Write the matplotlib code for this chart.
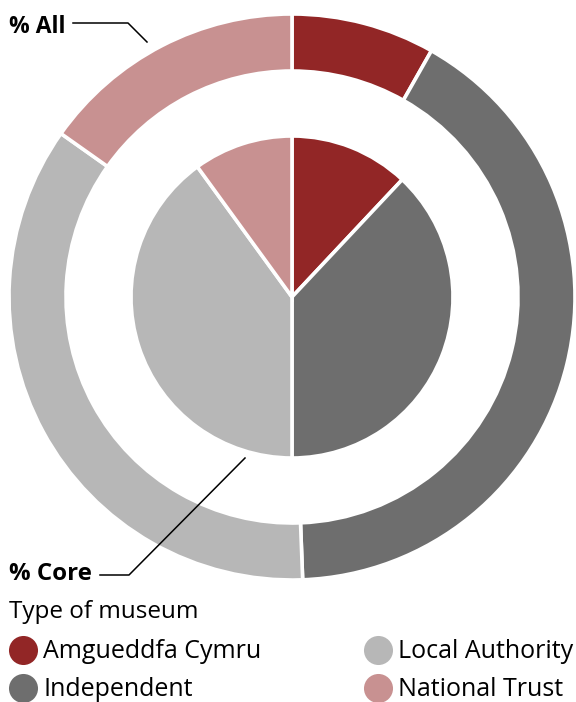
import matplotlib.pyplot as plt

plt.rcParams['font.family'] = ['Open Sans', 'DejaVu Sans']

# museum types and their shares (%)
types = ['Amgueddfa Cymru', 'Independent', 'Local Authority', 'National Trust']
colors = ['#922626', '#6e6e6e', '#b7b7b7', '#c89191']
pct_all = [8.2, 41.2, 35.4, 15.2]
pct_core = [12.0, 38.0, 40.0, 10.0]

W, H = 576, 702
fig = plt.figure(figsize=(W / 100, H / 100), dpi=100)
ax = fig.add_axes([0, 0, 1, 1])

cx, cy = 292, H - 297
edge = dict(edgecolor='white', linewidth=2.6)

# outer ring: all museums
ax.pie(pct_all, colors=colors, radius=283, center=(cx, cy),
       startangle=90, counterclock=False,
       wedgeprops=dict(width=57, **edge), frame=True)
# inner pie: core museums
ax.pie(pct_core, colors=colors, radius=161, center=(cx, cy),
       startangle=90, counterclock=False, wedgeprops=edge, frame=True)
ax.set_xlim(0, W)
ax.set_ylim(0, H)
ax.set_aspect('equal')
ax.axis('off')

# callout labels
ax.text(9, H - 33, '% All', fontsize=16.5, fontweight='bold',
        va='baseline', ha='left')
ax.plot([73, 128, 147], [H - 23, H - 23, H - 42], color='black', lw=1.1)
ax.text(9, H - 580, '% Core', fontsize=17.3, fontweight='bold',
        va='baseline', ha='left')
ax.plot([100, 129, 245], [H - 575, H - 575, H - 458], color='black', lw=1.1)

# legend drawn by hand: two columns of coloured dots
ax.text(9, H - 618, 'Type of museum', fontsize=17.5, va='baseline', ha='left')
for i, (name, c) in enumerate(zip(types, colors)):
    col, row = divmod(i, 2)
    x = 23 + col * 355
    y = H - (650 + row * 38)
    ax.scatter([x], [y], s=29 ** 2 * 0.52, color=c, linewidths=0)
    ax.text(x + 20, y - 8, name, fontsize=18, va='baseline', ha='left')

plt.savefig('out.png', dpi=100)
